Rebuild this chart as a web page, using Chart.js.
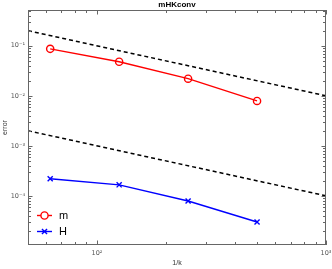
<!DOCTYPE html>
<html>
<head>
<meta charset="utf-8">
<script src="https://cdn.jsdelivr.net/npm/chart.js@4/dist/chart.umd.min.js"></script>
<style>
  html, body { margin: 0; padding: 0; background: #fff; }
  #wrap { width: 332px; height: 269px; position: relative; }
</style>
</head>
<body>
<div id="wrap"><canvas id="conv-chart"></canvas></div>
<script>
// data
const invK = [62.5, 125, 250, 500];
const errM = [0.087, 0.048, 0.022, 0.0079];
const errH = [2.2e-4, 1.66e-4, 7.9e-5, 3.0e-5];

// reference slope lines (order 1)
const refX = [50, 1000];
const refUpper = [0.2, 0.01];
const refLower = [0.002, 0.0001];

const SUP = { "0": "\u2070", "1": "\u00B9", "2": "\u00B2", "3": "\u00B3", "4": "\u2074", "5": "\u2075", "-": "\u207B" };
function mantissa(v) {
  const e = Math.floor(Math.log10(v) + 1e-9);
  return v / Math.pow(10, e);
}
function isDecade(v) {
  return Math.abs(mantissa(v) - 1) < 1e-6;
}
function isWholeStep(v) {
  const m = mantissa(v);
  return Math.abs(m - Math.round(m)) < 1e-6;
}
function decadeLabel(v) {
  if (!isDecade(v)) return "";
  const e = Math.round(Math.log10(v));
  return "10" + String(e).split("").map(c => SUP[c]).join("");
}

const pts = (xs, ys) => xs.map((x, i) => ({ x: x, y: ys[i] }));

const AXIS_GREY = "#666";
const FONT = "'Liberation Sans', Arial, sans-serif";
const TICK_FONT = "'DejaVu Sans', sans-serif";

// MATLAB-style box with inward ticks, title and in-plot legend
const matlabBox = {
  id: "matlabBox",
  afterDraw(chart) {
    const ctx = chart.ctx;
    const a = chart.chartArea;
    const xs = chart.scales.x, ys = chart.scales.y;
    ctx.save();
    ctx.strokeStyle = AXIS_GREY;
    ctx.lineWidth = 1;
    ctx.strokeRect(a.left + 0.5, a.top + 0.5, a.right - a.left - 1, a.bottom - a.top - 1);
    ctx.beginPath();
    xs.ticks.filter(t => isWholeStep(t.value)).forEach(t => {
      const px = Math.round(xs.getPixelForValue(t.value)) + 0.5;
      const len = isDecade(t.value) ? 4.5 : 3;
      ctx.moveTo(px, a.bottom); ctx.lineTo(px, a.bottom - len);
      ctx.moveTo(px, a.top); ctx.lineTo(px, a.top + len);
    });
    ys.ticks.filter(t => isWholeStep(t.value)).forEach(t => {
      const py = Math.round(ys.getPixelForValue(t.value)) + 0.5;
      const len = isDecade(t.value) ? 4.5 : 3;
      ctx.moveTo(a.left, py); ctx.lineTo(a.left + len, py);
      ctx.moveTo(a.right, py); ctx.lineTo(a.right - len, py);
    });
    ctx.stroke();

    // title
    ctx.fillStyle = "#000";
    ctx.font = "bold 8px " + FONT;
    ctx.textAlign = "center";
    ctx.textBaseline = "middle";
    ctx.fillText("mHKconv", (a.left + a.right) / 2, 5);

    // legend
    const items = chart.data.datasets.filter(d => d.label);
    ctx.font = "11px " + FONT;
    ctx.textAlign = "left";
    items.forEach((d, i) => {
      const y = 215.5 + i * 16;
      const x0 = a.left + 9, x1 = a.left + 24, xm = (x0 + x1) / 2;
      ctx.strokeStyle = d.borderColor;
      ctx.lineWidth = d.borderWidth;
      ctx.beginPath(); ctx.moveTo(x0, y); ctx.lineTo(x1, y); ctx.stroke();
      ctx.fillStyle = "#fff";
      ctx.strokeStyle = d.pointBorderColor;
      ctx.lineWidth = d.pointBorderWidth;
      Chart.helpers.drawPoint(ctx, {
        pointStyle: d.pointStyle, radius: d.pointRadius, rotation: 0,
        borderWidth: d.pointBorderWidth
      }, xm, y);
      ctx.fillStyle = "#000";
      ctx.fillText(d.label, x1 + 7, y + 0.5);
    });
    ctx.restore();
  }
};

new Chart(document.getElementById("conv-chart"), {
  type: "line",
  data: {
    datasets: [
      {
        label: "m",
        data: pts(invK, errM),
        borderColor: "#ff0000",
        backgroundColor: "#ffffff",
        borderWidth: 1.4,
        pointStyle: "circle",
        pointRadius: 3.6,
        pointBorderWidth: 1.4,
        pointBackgroundColor: "rgba(255,255,255,0)",
        pointBorderColor: "#ff0000"
      },
      {
        label: "H",
        data: pts(invK, errH),
        borderColor: "#0000ff",
        backgroundColor: "#ffffff",
        borderWidth: 1.4,
        pointStyle: "crossRot",
        pointRadius: 3.6,
        pointBorderWidth: 1.4,
        pointBorderColor: "#0000ff"
      },
      {
        data: pts(refX, refUpper),
        borderColor: "#000",
        borderWidth: 1.5,
        borderDash: [4, 3],
        pointRadius: 0
      },
      {
        data: pts(refX, refLower),
        borderColor: "#000",
        borderWidth: 1.5,
        borderDash: [4, 3],
        pointRadius: 0
      }
    ]
  },
  options: {
    responsive: true,
    maintainAspectRatio: false,
    animation: false,
    layout: { padding: { top: 10, right: 6, left: 0, bottom: 0 } },
    plugins: {
      legend: { display: false },
      title: { display: false },
      tooltip: { enabled: false }
    },
    scales: {
      x: {
        type: "logarithmic",
        min: 50,
        max: 1000,
        grid: { display: false, drawTicks: false },
        border: { display: false },
        ticks: {
          autoSkip: false, maxRotation: 0, padding: 4,
          color: "#555", font: { size: 6.5, family: TICK_FONT },
          callback: v => decadeLabel(v)
        },
        title: { display: true, text: "1/k", color: "#333", font: { size: 7, family: FONT }, padding: { top: 0, bottom: 2 } },
        afterFit: s => { s.height = 24; s.paddingLeft = 0; s.paddingRight = 0; }
      },
      y: {
        type: "logarithmic",
        min: 1.04e-5,
        max: 0.52,
        grid: { display: false, drawTicks: false },
        border: { display: false },
        ticks: {
          autoSkip: false, padding: 3,
          color: "#555", font: { size: 6.5, family: TICK_FONT },
          callback: v => decadeLabel(v)
        },
        title: { display: true, text: "error", color: "#333", font: { size: 7, family: FONT }, padding: { top: 1, bottom: 0 } },
        afterFit: s => { s.width = 28; s.paddingTop = 0; s.paddingBottom = 0; }
      }
    }
  },
  plugins: [matlabBox]
});
</script>
</body>
</html>
